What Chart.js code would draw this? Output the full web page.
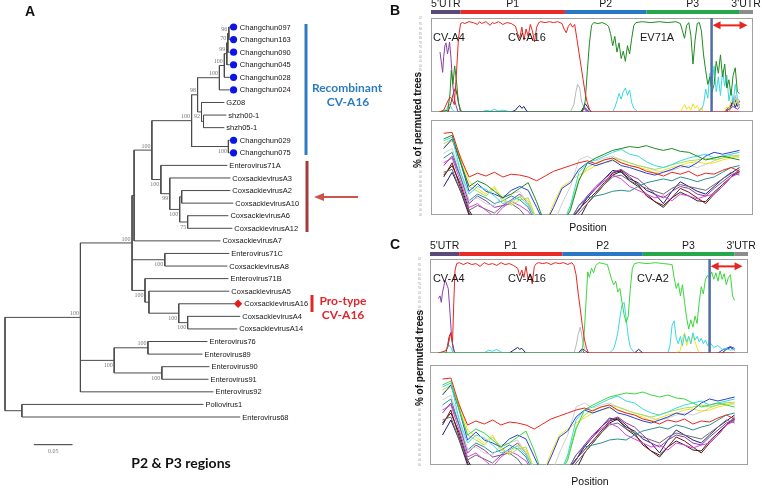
<!DOCTYPE html>
<html>
<head>
<meta charset="utf-8">
<script src="https://cdn.jsdelivr.net/npm/chart.js@4.4.1/dist/chart.umd.min.js"></script>
<style>
html, body { margin: 0; padding: 0; background: #fff; }
#wrap { position: relative; width: 762px; height: 488px; overflow: hidden; font-family: "Liberation Sans", Arial, sans-serif; }
canvas { position: absolute; }
.t { position: absolute; white-space: nowrap; transform: translate(-50%, -50%); }
.panel { font-weight: bold; font-size: 14px; color: #111; transform: none; }
.ylab { font-weight: bold; font-size: 10px; color: #111; transform: translate(-50%, -50%) rotate(-90deg); }
.pos { font-size: 10.5px; color: #111; }
.cal { font-family: Lato, "Open Sans", sans-serif; font-weight: bold; }
</style>
</head>
<body>
<div id="wrap">
  <canvas id="tree" width="420" height="488" style="left:0;top:0"></canvas>
  <canvas id="bTop" width="343" height="120" style="left:419px;top:0"></canvas>
  <canvas id="bBot" width="336" height="106" style="left:419px;top:117px"></canvas>
  <canvas id="cTop" width="344" height="123" style="left:418px;top:238px"></canvas>
  <canvas id="cBot" width="332" height="111" style="left:418px;top:362px"></canvas>

  <svg width="762" height="488" style="position:absolute;left:0;top:0">
    <line x1="306" y1="24" x2="306" y2="155" stroke="#2d7cc0" stroke-width="3"/>
    <line x1="307" y1="161" x2="307" y2="232" stroke="#a23b3b" stroke-width="3"/>
    <line x1="322" y1="197" x2="358" y2="197" stroke="#c9554e" stroke-width="2"/>
    <polygon points="314,197 324,193 324,201" fill="#c9554e"/>
    <line x1="312" y1="295" x2="312" y2="312" stroke="#e0262b" stroke-width="3"/>
  </svg>

  <div class="t panel" style="left:25px;top:3px">A</div>
  <div class="t panel" style="left:390px;top:2px">B</div>
  <div class="t panel" style="left:390px;top:236px">C</div>

  <div class="t cal" style="left:347px;top:87px;font-size:12px;color:#2d7cc0">Recombinant</div>
  <div class="t cal" style="left:348px;top:101px;font-size:12px;color:#2d7cc0">CV-A16</div>
  <div class="t cal" style="left:343px;top:300px;font-size:12px;color:#e0262b">Pro-type</div>
  <div class="t cal" style="left:343px;top:314px;font-size:12px;color:#e0262b">CV-A16</div>
  <div class="t cal" style="left:181px;top:462px;font-size:14px;color:#111">P2 &amp; P3 regions</div>

  <div class="t ylab" style="left:417px;top:120px">% of permuted trees</div>
  <div class="t ylab" style="left:419px;top:358px">% of permuted trees</div>
  <div class="t pos" style="left:588px;top:227px">Position</div>
  <div class="t pos" style="left:590px;top:481px">Position</div>
</div>

<script>
// ---- panel A : neighbour-joining tree, P2 & P3 regions ----
const treeNewick = "((((((((((((Changchun097:0.0013,Changchun163:0.0013)96:0.0013,Changchun090:0.0026)70:0.0013,Changchun045:0.0039)99:0.0032,Changchun028:0.0071)100:0.0064,Changchun024:0.0135)100:0.0282,(GZ08:0.0295,(shzh00-1:0.0295,shzh05-1:0.0269):0.0026)92:0.0051)98:0.0077,(Changchun029:0.0019,Changchun075:0.0019)100:0.0475)100:0.0513,(Enterovirus71A:0.0859,(CoxsackievirusA3:0.0782,((CoxsackievirusA2:0.0628,CoxsackievirusA10:0.0667):0.0026,(CoxsackievirusA6:0.0526,CoxsackievirusA12:0.0577)75:0.0103)100:0.0128)99:0.0115)100:0.0116)100:0.0230,CoxsackievirusA7:0.1115):0.0026,(Enterovirus71C:0.0833,CoxsackievirusA8:0.0808)100:0.0423,(Enterovirus71B:0.1077,(CoxsackievirusA5:0.1038,(CoxsackievirusA16:0.0718,(CoxsackievirusA4:0.0679,CoxsackievirusA14:0.0641)100:0.0115)100:0.0385):0.0051)100:0.0167)100:0.0667,((Enterovirus76:0.0769,Enterovirus89:0.0705)100:0.0436,(Enterovirus90:0.0615,Enterovirus91:0.0602)100:0.0616)100:0.0436,Enterovirus92:0.1718)100:0.0974,(Poliovirus1:0.2346,Enterovirus68:0.2820):0.0218);";
const recombinantLeaves = ['Changchun097', 'Changchun163', 'Changchun090', 'Changchun045', 'Changchun028', 'Changchun024', 'Changchun029', 'Changchun075'];
const prototypeLeaves = ['CoxsackievirusA16'];
const scaleBarLength = 0.05;

// ---- panels B / C : bootscan (top) and similarity (bottom) ----
const regionNames = ["5'UTR", 'P1', 'P2', 'P3', "3'UTR"];
const regionBounds = [0, 700, 3170, 5100, 7290, 7620];
const breakpointB = 6640;
const breakpointC = 6700;
const recombRegionEnd = 7490;
const labelsB = ['CV-A4', 'CV-A16', 'EV71A'];
const labelsC = ['CV-A4', 'CV-A16', 'CV-A2'];
const labelPosB = [50, 1820, 4945];
const labelPosC = [70, 1870, 4960];

const bTopRed = [[200,0],[300,2],[400,12],[450,16],[500,14],[550,8],[600,40],[650,80],[700,96],[750,97],[800,96],[900,98],[1000,97],[1100,95],[1150,98],[1200,96],[1300,98],[1400,94],[1450,97],[1500,96],[1600,98],[1700,95],[1800,97],[1900,96],[2000,93],[2050,85],[2100,80],[2150,92],[2200,78],[2250,90],[2300,82],[2350,95],[2400,88],[2450,76],[2500,92],[2550,97],[2600,98],[2700,97],[2800,98],[2900,97],[3000,98],[3100,96],[3150,90],[3200,86],[3250,93],[3300,96],[3350,92],[3400,95],[3450,80],[3500,65],[3550,50],[3600,35],[3650,20],[3700,10],[3750,3],[3800,0],[5500,0],[7300,0]];
const bTopGreen = [[200,0],[400,2],[450,20],[480,45],[520,30],[560,50],[600,35],[650,10],[700,2],[750,0],[3550,0],[3600,3],[3650,12],[3700,45],[3750,75],[3800,94],[3850,97],[3950,96],[4050,97],[4150,95],[4200,93],[4250,85],[4300,72],[4350,82],[4400,65],[4450,75],[4500,58],[4550,66],[4600,55],[4650,72],[4700,63],[4750,80],[4800,94],[4850,97],[5000,98],[5200,97],[5400,98],[5600,97],[5800,98],[5900,96],[5950,88],[6000,80],[6050,94],[6100,97],[6150,83],[6200,52],[6250,78],[6300,96],[6350,97],[6400,88],[6450,62],[6500,45],[6550,30],[6600,38],[6650,22],[6700,30],[6750,55],[6800,42],[6850,62],[6900,38],[6950,52],[7000,26],[7050,35],[7100,18],[7150,40],[7200,48],[7250,22],[7300,20]];
const bTopPurple = [[213,65],[250,52],[276,43],[300,60],[330,72],[355,75],[390,63],[420,70],[440,76],[474,58],[513,30],[550,15],[592,7],[640,0],[3550,0],[3620,4],[3700,0],[3800,null],[6950,0],[7050,3],[7150,6],[7250,3],[7300,5]];
const bTopCyan = [[300,0],[380,4],[420,9],[460,7],[500,3],[560,0],[1200,0],[1300,2],[1400,1],[1500,3],[1600,1],[1700,2],[1900,0],[2000,null],[4300,0],[4350,5],[4400,12],[4450,20],[4500,14],[4550,22],[4600,26],[4650,18],[4700,24],[4750,10],[4800,4],[4900,0],[5000,null],[6300,0],[6400,3],[6450,8],[6500,25],[6550,15],[6600,42],[6650,30],[6700,50],[6750,22],[6800,38],[6850,18],[6900,45],[6950,28],[7000,40],[7050,12],[7100,25],[7150,10],[7200,30],[7250,15],[7300,12]];
const bTopGray = [[3300,0],[3380,8],[3430,22],[3470,30],[3520,26],[3560,12],[3620,4],[3700,0],[3800,null],[7050,0],[7150,8],[7200,18],[7250,10],[7300,5]];
const bTopYellow = [[5900,0],[5950,4],[6000,8],[6050,3],[6100,6],[6150,2],[6200,9],[6250,4],[6300,7],[6350,2],[6400,5],[6450,0],[6900,null],[6950,0],[7000,6],[7050,3],[7100,12],[7150,16],[7200,8],[7250,14],[7300,6]];
const bTopNavy = [[1900,0],[2000,2],[2050,5],[2100,7],[2150,4],[2200,6],[2250,2],[2300,0],[2400,null],[3550,0],[3600,4],[3650,9],[3700,6],[3750,2],[3800,0],[3900,null],[6950,0],[7000,3],[7100,6],[7150,12],[7200,5],[7250,10],[7300,8]];
const bTopBlue = [[3550,0],[3620,6],[3680,3],[3750,0],[3800,null],[7000,0],[7100,8],[7180,15],[7250,6],[7300,12]];
const bTopBrown = [[400,0],[450,6],[500,15],[540,22],[580,26],[620,18],[660,8],[700,0],[750,null],[3580,0],[3620,5],[3680,2],[3720,0]];
const bTopOrange = [[7050,0],[7120,8],[7200,16],[7260,12],[7300,6]];

const cTopRed = [[200,0],[350,2],[420,5],[460,14],[500,22],[540,12],[570,55],[600,90],[640,97],[700,98],[800,96],[900,98],[1000,96],[1100,97],[1200,94],[1300,98],[1400,96],[1500,97],[1600,95],[1700,98],[1800,96],[1900,97],[2000,95],[2100,92],[2150,84],[2200,90],[2250,82],[2300,94],[2350,80],[2400,86],[2450,75],[2500,94],[2550,97],[2600,98],[2700,97],[2800,98],[2900,96],[3000,98],[3100,97],[3200,98],[3300,96],[3400,98],[3450,95],[3500,85],[3550,65],[3600,48],[3650,30],[3700,15],[3750,5],[3800,0],[5500,0],[7300,0]];
const cTopGreen = [[200,0],[3600,0],[3650,3],[3700,25],[3750,65],[3780,88],[3820,82],[3870,92],[3920,87],[3970,95],[4050,98],[4150,97],[4250,96],[4300,88],[4350,80],[4400,74],[4450,78],[4500,66],[4550,70],[4600,55],[4650,42],[4700,33],[4750,40],[4800,70],[4850,92],[4900,97],[5000,98],[5200,97],[5400,98],[5600,97],[5800,96],[5850,82],[5900,70],[5950,76],[6000,62],[6050,74],[6100,55],[6150,38],[6200,26],[6250,36],[6300,28],[6350,40],[6400,32],[6450,55],[6500,72],[6550,64],[6600,80],[6650,84],[6700,82],[6750,88],[6800,80],[6850,87],[6900,78],[6950,89],[7000,80],[7050,86],[7100,74],[7150,82],[7200,85],[7250,62],[7300,57]];
const cTopPurple = [[200,59],[240,62],[270,55],[300,66],[330,72],[357,79],[390,76],[420,72],[437,70],[470,50],[516,18],[556,4],[600,0],[3550,0],[3650,4],[3700,0]];
const cTopCyan = [[300,0],[400,4],[450,9],[500,6],[550,1],[600,0],[1300,0],[1400,3],[1500,2],[1600,4],[1700,1],[1800,0],[2500,null],[4300,0],[4400,4],[4450,12],[4500,22],[4550,38],[4600,52],[4650,55],[4700,38],[4750,18],[4800,6],[4900,0],[5000,null],[5700,0],[5750,8],[5800,30],[5850,35],[5900,16],[5950,10],[6000,18],[6050,8],[6100,20],[6150,12],[6200,18],[6250,10],[6300,22],[6350,14],[6400,18],[6450,12],[6500,16],[6550,10],[6600,14],[6650,8],[6700,12],[6800,6],[6900,8],[7000,4],[7100,5],[7200,3],[7300,4]];
const cTopYellow = [[5900,0],[6000,3],[6050,16],[6100,22],[6150,8],[6200,18],[6250,10],[6300,20],[6350,12],[6400,6],[6450,0]];
const cTopGray = [[3450,0],[3500,8],[3550,20],[3600,28],[3650,16],[3700,5],[3750,0]];
const cTopBrown = [[380,0],[420,8],[460,18],[500,22],[540,10],[580,2],[620,0]];
const cTopNavy = [[1900,0],[2000,3],[2100,6],[2150,4],[2200,5],[2300,0],[2400,null],[3550,0],[3650,5],[3700,3],[3800,0],[3900,null],[4900,0],[5000,4],[5100,0],[5200,null],[7000,0],[7100,4],[7200,6],[7300,3]];
const cTopBlue = [[6900,0],[7000,3],[7100,5],[7200,7],[7300,5]];

// lower panels: same windows, values as fraction of the frame height
const botX = [300,500,700,900,1100,1300,1500,1700,1900,2100,2300,2500,2700,2900,3100,3300,3500,3700,3900,4100,4300,4500,4700,4900,5100,5300,5500,5700,5900,6100,6300,6500,6700,6900,7100,7300];
const botRed = [0.86,0.87,0.60,0.40,0.44,0.41,0.45,0.40,0.43,0.42,0.40,0.36,0.41,0.46,0.49,0.52,0.55,0.57,0.54,0.58,0.60,0.55,0.52,0.50,0.46,0.44,0.41,0.45,0.43,0.46,0.41,0.44,0.43,0.47,0.50,0.46];
const botTop = [0.80,0.84,0.55,0.30,0.36,0.32,0.25,0.18,0.22,0.28,0.34,0.14,-0.1,-0.1,-0.1,0.05,0.36,0.55,0.60,0.64,0.68,0.70,0.72,0.71,0.73,0.70,0.68,0.70,0.67,0.66,0.62,0.58,0.60,0.62,0.60,0.58];
const botCyan = [0.78,0.82,0.45,0.22,0.30,0.27,0.20,0.12,0.15,0.19,0.10,-0.05,-0.1,-0.1,-0.1,0.10,0.45,0.55,0.58,0.62,0.66,0.69,0.64,0.62,0.56,0.52,0.50,0.53,0.57,0.60,0.62,0.64,0.60,0.62,0.64,0.66];
const botBlue = [0.70,0.80,0.55,0.25,0.33,0.25,0.22,0.18,0.26,0.30,0.26,0.08,-0.1,0.08,0.28,0.34,0.48,0.55,0.52,0.55,0.58,0.52,0.50,0.47,0.44,0.42,0.45,0.48,0.52,0.50,0.55,0.62,0.66,0.64,0.66,0.68];
const botYellow = [0.72,0.78,0.62,0.35,0.28,0.22,0.30,0.15,0.12,0.20,0.15,-0.05,-0.1,0.12,0.30,0.36,0.42,0.47,0.52,0.55,0.57,0.55,0.52,0.50,0.48,0.44,0.47,0.50,0.52,0.55,0.56,0.54,0.55,0.58,0.60,0.62];
const botSilver = [0.65,0.70,0.45,0.15,0.18,0.12,0.10,0.20,0.22,0.25,0.12,-0.05,-0.1,-0.1,0.12,0.30,0.58,0.62,0.57,0.60,0.62,0.58,0.55,0.52,0.50,0.47,0.45,0.47,0.50,0.52,0.50,0.53,0.57,0.60,0.63,0.60];
const botLime = [0.75,0.80,0.58,0.30,0.25,0.20,0.28,0.18,0.10,0.16,0.18,-0.05,-0.1,-0.1,-0.1,0.08,0.38,0.50,0.55,0.58,0.60,0.58,0.55,0.52,0.50,0.48,0.50,0.53,0.55,0.57,0.58,0.60,0.58,0.60,0.62,0.63];
const botTeal = [0.60,0.66,0.40,0.15,0.22,0.18,0.12,0.15,0.20,0.16,0.08,-0.1,-0.1,-0.1,-0.1,-0.05,0.10,0.18,0.20,0.22,0.25,0.26,0.25,0.30,0.34,0.36,0.38,0.36,0.40,0.38,0.35,0.38,0.40,0.45,0.50,0.52];
const botPurple = [0.52,0.62,0.40,0.12,0.20,0.15,0.08,0.10,0.16,0.22,0.12,-0.05,-0.1,-0.1,-0.1,-0.05,0.05,0.20,0.30,0.38,0.45,0.48,0.42,0.38,0.30,0.22,0.18,0.25,0.30,0.28,0.22,0.20,0.28,0.35,0.42,0.45];
const botMagenta = [0.55,0.60,0.35,0.08,0.12,0.05,-0.02,0.08,0.14,0.10,0.04,-0.1,-0.1,-0.1,-0.1,-0.05,0.10,0.20,0.28,0.36,0.42,0.38,0.30,0.26,0.22,0.18,0.20,0.15,0.22,0.20,0.17,0.20,0.22,0.30,0.40,0.44];
const botGray = [0.45,0.48,0.25,0.05,0.10,0.06,0.02,0.10,0.12,0.06,-0.05,-0.1,-0.1,-0.1,-0.1,-0.1,0.02,0.12,0.22,0.32,0.40,0.42,0.36,0.32,0.28,0.25,0.22,0.28,0.32,0.30,0.28,0.26,0.32,0.38,0.45,0.42];
const botMaroon = [0.40,0.55,0.28,0.02,-0.1,-0.1,-0.1,-0.1,-0.1,-0.1,-0.1,-0.1,-0.1,-0.1,-0.1,-0.05,0.06,0.15,0.24,0.34,0.44,0.47,0.40,0.32,0.20,0.14,0.10,0.18,0.28,0.24,0.18,0.12,0.22,0.30,0.40,0.48];
const botNavy = [0.30,0.45,0.25,0.00,-0.1,-0.1,-0.1,-0.1,-0.1,-0.1,-0.1,-0.1,-0.1,-0.1,-0.1,-0.05,0.05,0.18,0.28,0.38,0.47,0.45,0.38,0.34,0.26,0.22,0.12,0.25,0.35,0.30,0.25,0.22,0.30,0.38,0.44,0.50];
const botBlack = [0.42,0.52,0.32,0.05,-0.1,-0.1,-0.1,-0.1,-0.1,-0.1,-0.1,-0.1,-0.1,-0.1,-0.1,-0.1,-0.05,0.12,0.22,0.32,0.42,0.46,0.36,0.30,0.22,0.14,0.08,0.18,0.24,0.20,0.15,0.14,0.24,0.32,0.40,0.46];

// ---- colours ----
const regionColors = ['#5a4a7c', '#ea2a26', '#2a78c4', '#24a84a', '#8c8c8c'];
const COL = {
  red: '#e8261f', darkGreen: '#1f8a1f', green: '#3cd63c', purple: '#8a3fa8', cyan: '#38d8e2',
  gray: '#b8b8b8', yellow: '#eee21e', navy: '#1a1a80', blue: '#2a3fd8', brown: '#8b2a1a',
  orange: '#f39a2a', magenta: '#e23fe2', teal: '#2a8f8f', maroon: '#7a1010', black: '#222',
  lime: '#a6e04a', silver: '#cfcfcf', dgray: '#6a6a6a'
};

// ---------- tree ----------
function parseNewick(s) {
  let i = 0;
  function node() {
    const n = { children: [], name: '', len: 0 };
    if (s[i] === '(') {
      i++;
      n.children.push(node());
      while (s[i] === ',') { i++; n.children.push(node()); }
      i++;
    }
    let lab = '';
    while (i < s.length && !':,();'.includes(s[i])) lab += s[i++];
    n.name = lab;
    if (s[i] === ':') {
      i++;
      let num = '';
      while (i < s.length && !',();'.includes(s[i])) num += s[i++];
      n.len = parseFloat(num);
    }
    return n;
  }
  return node();
}

const root = parseNewick(treeNewick);
const leaves = [];
const inner = [];
const branchPts = [];
(function layout(n, depth) {
  n.x = depth + n.len;
  if (!n.children.length) {
    n.y = leaves.length;
    leaves.push(n);
  } else {
    n.children.forEach((c, k) => { c.first = k === 0; layout(c, n.x); });
    n.y = (n.children[0].y + n.children[n.children.length - 1].y) / 2;
    inner.push(n);
  }
})(root, 0);

(function segs(n, parent) {
  if (parent) branchPts.push({ x: parent.x, y: n.y }, { x: n.x, y: n.y }, { x: n.x, y: null });
  if (n.children.length) {
    branchPts.push({ x: n.x, y: n.children[0].y }, { x: n.x, y: n.children[n.children.length - 1].y }, { x: n.x, y: null });
    n.children.forEach(c => segs(c, n));
  }
})(root, null);

const markGap = 0.0048;
const dotPts = leaves.filter(l => recombinantLeaves.includes(l.name)).map(l => ({ x: l.x + markGap, y: l.y }));
const diamondPts = leaves.filter(l => prototypeLeaves.includes(l.name)).map(l => ({ x: l.x + markGap, y: l.y }));
const barStart = 0.0372, barRow = 33.2;
const scaleBarPts = [{ x: barStart, y: barRow }, { x: barStart + scaleBarLength, y: barRow }];

const treeLabels = {
  id: 'treeLabels',
  afterDatasetsDraw(chart) {
    const { ctx, scales: { x, y } } = chart;
    ctx.save();
    ctx.fillStyle = '#161616';
    ctx.font = '7.5px "Liberation Sans", Arial, sans-serif';
    ctx.textBaseline = 'middle';
    ctx.textAlign = 'left';
    leaves.forEach(l => {
      const marked = recombinantLeaves.includes(l.name) || prototypeLeaves.includes(l.name);
      ctx.fillText(l.name, x.getPixelForValue(l.x) + (marked ? 10 : 2), y.getPixelForValue(l.y) + 0.5);
    });
    ctx.font = '6px "Liberation Serif", "DejaVu Serif", serif';
    ctx.fillStyle = '#777';
    ctx.textAlign = 'right';
    inner.forEach(n => {
      if (!n.name) return;
      const px = x.getPixelForValue(n.x) - 1.5;
      const py = y.getPixelForValue(n.y);
      if (n.first) { ctx.textBaseline = 'bottom'; ctx.fillText(n.name, px, py - 1); }
      else { ctx.textBaseline = 'top'; ctx.fillText(n.name, px, py + 2); }
    });
    ctx.textAlign = 'center';
    ctx.textBaseline = 'top';
    ctx.fillText(String(scaleBarLength), x.getPixelForValue(barStart + scaleBarLength / 2), y.getPixelForValue(barRow) + 4);
    ctx.restore();
  }
};

new Chart(document.getElementById('tree'), {
  type: 'scatter',
  data: {
    datasets: [
      { data: branchPts, showLine: true, borderColor: '#4a4a4a', borderWidth: 1, pointRadius: 0, spanGaps: false, clip: false },
      { data: dotPts, pointStyle: 'circle', pointRadius: 3.6, backgroundColor: '#0c14e6', borderWidth: 0, clip: false },
      { data: diamondPts, pointStyle: 'rectRot', pointRadius: 4.2, backgroundColor: '#e81c1c', borderWidth: 0, clip: false },
      { data: scaleBarPts, showLine: true, borderColor: '#333', borderWidth: 1, pointStyle: 'line', pointRotation: 90, pointRadius: 2.5, pointBorderColor: '#333', clip: false }
    ]
  },
  options: {
    responsive: false, animation: false, events: [],
    layout: { padding: { left: 3, top: 27, right: 144, bottom: 71 } },
    plugins: { legend: { display: false }, tooltip: { enabled: false } },
    scales: {
      x: { type: 'linear', display: false, min: 0, max: 0.35 },
      y: { type: 'linear', display: false, min: 0, max: 31, reverse: true }
    }
  },
  plugins: [treeLabels]
});

// ---------- bootscan panels ----------
const framePlugin = {
  id: 'frame',
  beforeDatasetsDraw(chart) {
    const { ctx, chartArea: a } = chart;
    ctx.save();
    ctx.strokeStyle = '#a0a0a0';
    ctx.lineWidth = 1;
    ctx.strokeRect(a.left + 0.5, a.top + 0.5, a.right - a.left - 1, a.bottom - a.top - 1);
    ctx.restore();
  }
};

function topDecor(opts) {
  return {
    id: 'topDecor',
    afterDatasetsDraw(chart) {
      const { ctx, chartArea: a, scales: { x, y } } = chart;
      ctx.save();
      // genome regions
      const barY = a.top - opts.barGap - 4;
      ctx.font = '10.5px "Liberation Sans", Arial, sans-serif';
      ctx.textAlign = 'center';
      ctx.textBaseline = 'bottom';
      regionNames.forEach((name, i) => {
        const x0 = x.getPixelForValue(regionBounds[i]);
        const x1 = x.getPixelForValue(regionBounds[i + 1]);
        ctx.fillStyle = regionColors[i];
        ctx.fillRect(x0, barY, x1 - x0, 4);
        ctx.fillStyle = '#1a1a1a';
        ctx.fillText(name, (x0 + x1) / 2, barY - 0.5);
      });
      // breakpoint and recombinant region
      const bx = x.getPixelForValue(opts.breakpoint);
      ctx.strokeStyle = '#4f6ea6';
      ctx.lineWidth = 2.5;
      ctx.beginPath(); ctx.moveTo(bx, a.top); ctx.lineTo(bx, a.bottom); ctx.stroke();
      const ay = y.getPixelForValue(94);
      const ex = x.getPixelForValue(recombRegionEnd);
      ctx.strokeStyle = '#e8261f'; ctx.fillStyle = '#e8261f'; ctx.lineWidth = 2;
      ctx.beginPath(); ctx.moveTo(bx + 6, ay); ctx.lineTo(ex - 6, ay); ctx.stroke();
      ctx.beginPath(); ctx.moveTo(bx + 1, ay); ctx.lineTo(bx + 9, ay - 4); ctx.lineTo(bx + 9, ay + 4); ctx.fill();
      ctx.beginPath(); ctx.moveTo(ex, ay); ctx.lineTo(ex - 8, ay - 4); ctx.lineTo(ex - 8, ay + 4); ctx.fill();
      // parental labels
      ctx.font = '11px "Liberation Sans", Arial, sans-serif';
      ctx.fillStyle = '#1a1a1a';
      ctx.textAlign = 'left';
      ctx.textBaseline = 'middle';
      opts.labels.forEach((t, i) => ctx.fillText(t, x.getPixelForValue(opts.labelPos[i]), y.getPixelForValue(80)));
      ctx.restore();
    }
  };
}

function scaleOpts(yMax, yStep, yFmt) {
  return {
    x: {
      type: 'linear', min: 0, max: 7620,
      ticks: { stepSize: 500, includeBounds: false, autoSkip: false, maxRotation: 0, font: { size: 4 }, color: '#9a9a9a', padding: 1 },
      grid: { display: false }, border: { display: false },
      afterFit(s) { s.height = 8; s.paddingLeft = 0; s.paddingRight = 0; }
    },
    y: {
      type: 'linear', min: 0, max: yMax,
      ticks: { stepSize: yStep, autoSkip: false, font: { size: 3.5 }, color: '#9a9a9a', padding: 1, callback: yFmt },
      grid: { display: false }, border: { display: false },
      afterFit(s) { s.width = 12; s.paddingTop = 0; s.paddingBottom = 0; }
    }
  };
}

function lineSet(data, color) {
  return { data, borderColor: color, borderWidth: 1, pointRadius: 0, tension: 0, spanGaps: false };
}

function topChart(id, sets, pad, decor) {
  return new Chart(document.getElementById(id), {
    type: 'line',
    data: { datasets: sets.map(s => lineSet(s[0], s[1])) },
    options: {
      responsive: false, animation: false, events: [],
      layout: { padding: pad },
      plugins: { legend: { display: false }, tooltip: { enabled: false } },
      scales: scaleOpts(102, 5, v => v)
    },
    plugins: [framePlugin, topDecor(decor)]
  });
}

function botChart(id, topColor) {
  const sets = [
    [botRed, COL.red], [botTop, topColor], [botCyan, COL.cyan], [botBlue, COL.blue], [botYellow, COL.yellow],
    [botLime, COL.lime], [botSilver, COL.silver], [botTeal, COL.teal], [botPurple, COL.purple],
    [botMagenta, COL.magenta], [botGray, COL.dgray], [botMaroon, COL.maroon], [botNavy, COL.navy], [botBlack, COL.black]
  ];
  return new Chart(document.getElementById(id), {
    type: 'line',
    data: { datasets: sets.map(s => lineSet(botX.map((x, i) => [x, s[0][i]]), s[1])) },
    options: {
      responsive: false, animation: false, events: [],
      layout: { padding: { top: 3, right: 2 } },
      plugins: { legend: { display: false }, tooltip: { enabled: false } },
      scales: scaleOpts(1, 0.05, v => v.toFixed(3))
    },
    plugins: [framePlugin]
  });
}

topChart('bTop', [
  [bTopRed, COL.red], [bTopGreen, COL.darkGreen], [bTopPurple, COL.purple], [bTopCyan, COL.cyan],
  [bTopGray, COL.gray], [bTopYellow, COL.yellow], [bTopNavy, COL.navy], [bTopBlue, COL.blue],
  [bTopBrown, COL.brown], [bTopOrange, COL.orange]
], { top: 18, right: 9 }, { barGap: 4, breakpoint: breakpointB, labels: labelsB, labelPos: labelPosB });

topChart('cTop', [
  [cTopRed, COL.red], [cTopGreen, COL.green], [cTopPurple, COL.purple], [cTopCyan, COL.cyan],
  [cTopGray, COL.gray], [cTopYellow, COL.yellow], [cTopNavy, COL.navy], [cTopBlue, COL.blue],
  [cTopBrown, COL.brown]
], { top: 21, right: 14 }, { barGap: 3, breakpoint: breakpointC, labels: labelsC, labelPos: labelPosC });

botChart('bBot', COL.darkGreen);
botChart('cBot', COL.green);
</script>
</body>
</html>
